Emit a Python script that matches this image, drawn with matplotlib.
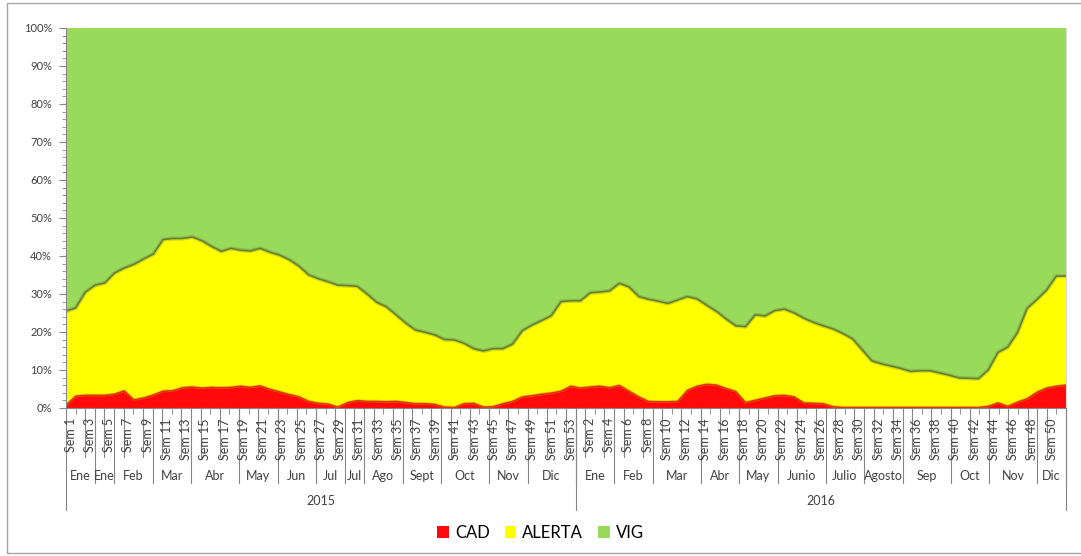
import numpy as np
import matplotlib
matplotlib.use("Agg")
import matplotlib.pyplot as plt
from matplotlib.patches import Patch, Rectangle
from matplotlib.ticker import MultipleLocator, PercentFormatter

plt.rcParams['font.family'] = ['Lato', 'DejaVu Sans']

# ---------- data (percent of weekly total) ----------
years = ["2015", "2016"]
weeks_per_year = [53, 51]

months_2015 = ["Ene", "Ene", "Feb", "Mar", "Abr", "May", "Jun", "Jul", "Jul", "Ago", "Sept", "Oct", "Nov", "Dic"]
month_weeks_2015 = [3, 2, 4, 4, 5, 4, 4, 3, 2, 4, 4, 5, 4, 5]
months_2016 = ["Ene", "Feb", "Mar", "Abr", "May", "Junio", "Julio", "Agosto", "Sep", "Oct", "Nov", "Dic"]
month_weeks_2016 = [4, 4, 5, 4, 4, 5, 4, 4, 5, 4, 5, 3]

cad = [0.8, 3.2, 3.4, 3.4, 3.4, 3.7, 4.6, 2.2, 2.7, 3.5,
       4.5, 4.6, 5.4, 5.6, 5.3, 5.5, 5.4, 5.5, 5.8, 5.5,
       5.9, 5.0, 4.3, 3.6, 3.0, 1.8, 1.3, 1.1, 0.3, 1.5,
       2.0, 1.8, 1.8, 1.7, 1.8, 1.5, 1.2, 1.2, 1.0, 0.3,
       0.2, 1.2, 1.3, 0.3, 0.4, 1.2, 1.8, 3.0, 3.3, 3.7,
       4.0, 4.5, 5.8, 5.3, 5.6, 5.8, 5.4, 6.0, 4.5, 3.0,
       1.8, 1.7, 1.7, 1.8, 4.7, 5.8, 6.3, 6.1, 5.2, 4.4,
       1.5, 2.1, 2.7, 3.3, 3.4, 3.0, 1.4, 1.3, 1.2, 0.4,
       0.2, 0.2, 0.2, 0.2, 0.2, 0.2, 0.2, 0.2, 0.2, 0.2,
       0.2, 0.2, 0.2, 0.2, 0.2, 0.5, 1.4, 0.5, 1.6, 2.5,
       4.2, 5.3, 5.8, 6.1]

alerta = [24.7, 23.1, 27.1, 28.9, 29.5, 31.8, 32.2, 35.6, 36.5, 37.0,
          39.8, 40.0, 39.2, 39.4, 38.7, 37.0, 35.8, 36.5, 35.7, 35.8,
          36.1, 36.0, 35.9, 35.4, 34.3, 33.2, 32.7, 32.1, 32.0, 30.7,
          30.0, 28.2, 26.0, 24.9, 22.7, 20.8, 19.3, 18.7, 18.2, 17.7,
          17.7, 15.8, 14.3, 14.7, 15.2, 14.4, 15.0, 17.3, 18.5, 19.3,
          20.3, 23.5, 22.4, 22.9, 24.7, 24.7, 25.4, 26.8, 27.3, 26.3,
          26.8, 26.4, 25.8, 26.6, 24.6, 22.9, 20.7, 19.3, 18.2, 17.2,
          19.9, 22.4, 21.5, 22.3, 22.6, 22.0, 22.2, 21.2, 20.4, 20.4,
          19.4, 18.0, 15.1, 12.2, 11.4, 10.8, 10.2, 9.4, 9.6, 9.6,
          9.0, 8.4, 7.7, 7.6, 7.5, 9.5, 13.2, 15.5, 18.2, 23.7,
          24.3, 25.7, 28.9, 28.6]

vig = [74.5, 73.7, 69.5, 67.7, 67.1, 64.5, 63.2, 62.2, 60.8, 59.5,
       55.7, 55.4, 55.4, 55.0, 56.0, 57.5, 58.8, 58.0, 58.5, 58.7,
       58.0, 59.0, 59.8, 61.0, 62.7, 65.0, 66.0, 66.8, 67.7, 67.8,
       68.0, 70.0, 72.2, 73.4, 75.5, 77.7, 79.5, 80.1, 80.8, 82.0,
       82.1, 83.0, 84.4, 85.0, 84.4, 84.4, 83.2, 79.7, 78.2, 77.0,
       75.7, 72.0, 71.8, 71.8, 69.7, 69.5, 69.2, 67.2, 68.2, 70.7,
       71.4, 71.9, 72.5, 71.6, 70.7, 71.3, 73.0, 74.6, 76.6, 78.4,
       78.6, 75.5, 75.8, 74.4, 74.0, 75.0, 76.4, 77.5, 78.4, 79.2,
       80.4, 81.8, 84.7, 87.6, 88.4, 89.0, 89.6, 90.4, 90.2, 90.2,
       90.8, 91.4, 92.1, 92.2, 92.3, 90.0, 85.4, 84.0, 80.2, 73.8,
       71.5, 69.0, 65.3, 65.3]

series_names = ["CAD", "ALERTA", "VIG"]
series_colors = ["#FF0A0A", "#FFFF00", "#9ADA5A"]

# ---------- derived ----------
cad = np.array(cad)
alerta = np.array(alerta)
vig = np.array(vig)
total = cad + alerta + vig
cad_p = cad / total
alerta_p = alerta / total
vig_p = vig / total

n = len(cad)
week_labels = ["Sem %d" % k for k in range(1, weeks_per_year[0] + 1)] + \
              ["Sem %d" % k for k in range(1, weeks_per_year[1] + 1)]
# area charts stretch from edge to edge of the category axis
x_data = np.linspace(-0.5, n - 0.5, n)

W, H = 1081, 556
fig = plt.figure(figsize=(W / 100, H / 100), dpi=100)
fig.patch.set_facecolor("white")
# chart border
fig.add_artist(Rectangle((7 / W, 3 / H), 1.0, 550 / H, transform=fig.transFigure,
                         fill=False, edgecolor="#A6A6A6", lw=1.0))

plot_l, plot_r, plot_t, plot_b = 66, 1066, 28, 408
ph = plot_b - plot_t
ax = fig.add_axes([plot_l / W, 1 - plot_b / H, (plot_r - plot_l) / W, ph / H])

ax.stackplot(x_data, cad_p, alerta_p, vig_p, colors=series_colors, lw=0)
# bevel-ish edges
top = cad_p + alerta_p
ax.plot(x_data, top, color="#4f6a2a", lw=3.0, alpha=0.25, solid_joinstyle="round")
ax.plot(x_data, top, color="#5a6e30", lw=1.1, alpha=0.85)
ax.plot(x_data, cad_p, color="#E8A000", lw=2.0, alpha=0.45)
ax.plot(x_data, cad_p, color="#C00000", lw=0.8, alpha=0.7)

ax.set_xlim(-0.5, n - 0.5)
ax.set_ylim(0, 1)
ax.yaxis.set_major_locator(MultipleLocator(0.1))
ax.yaxis.set_minor_locator(MultipleLocator(0.02))
ax.yaxis.set_major_formatter(PercentFormatter(1.0, decimals=0))
ax.tick_params(axis="y", which="major", length=5, color="#868686", labelsize=8,
               labelcolor="#404040", pad=5)
ax.tick_params(axis="y", which="minor", length=3, color="#868686")
ax.set_xticks([])
ax.set_xticks(np.arange(n + 1) - 0.5, minor=True)
ax.tick_params(axis="x", which="minor", length=4, color="#868686")
for s in ["left", "bottom"]:
    ax.spines[s].set_color("#868686")
ax.spines["top"].set_visible(False)
ax.spines["right"].set_color("#D9D9D9")

# ---------- multi-level category axis ----------
tr = ax.get_xaxis_transform()
line_kw = dict(transform=tr, color="#868686", lw=0.8, clip_on=False)


def ay(px):
    return -px / ph


year_bounds = np.cumsum([0] + weeks_per_year) - 0.5

# week level: a label every 2nd category, counted over the whole axis
for k in range(0, n, 2):
    ax.text(k, ay(10), week_labels[k], transform=tr, rotation=90, ha="center", va="top",
            fontsize=9, color="#404040")
for k in range(1, n - 1, 2):
    ax.plot([k + 0.5, k + 0.5], [0, ay(49)], **line_kw)

for months, counts, y0 in [(months_2015, month_weeks_2015, year_bounds[0]),
                           (months_2016, month_weeks_2016, year_bounds[1])]:
    b = y0 + np.cumsum([0] + counts)
    for m, name in enumerate(months):
        ax.text((b[m] + b[m + 1]) / 2, ay(68), name, transform=tr, ha="center", va="center",
                fontsize=9, color="#404040")
        ax.plot([b[m + 1], b[m + 1]], [0, ay(75)], **line_kw)

for yi in range(len(years)):
    ax.text((year_bounds[yi] + year_bounds[yi + 1]) / 2, ay(93), years[yi], transform=tr,
            ha="center", va="center", fontsize=9, color="#404040")
for xb in year_bounds:
    ax.plot([xb, xb], [0, ay(102)], **line_kw)

# ---------- legend ----------
handles = [Patch(facecolor=c, edgecolor="none") for c in series_colors]
fig.legend(handles, series_names, loc="center", bbox_to_anchor=(0.5, 1 - 533 / H), ncol=3,
           frameon=False, fontsize=12, handlelength=0.7, handleheight=0.7,
           handletextpad=0.35, columnspacing=0.9)

plt.savefig("out.png", dpi=100)
plt.close('all')
